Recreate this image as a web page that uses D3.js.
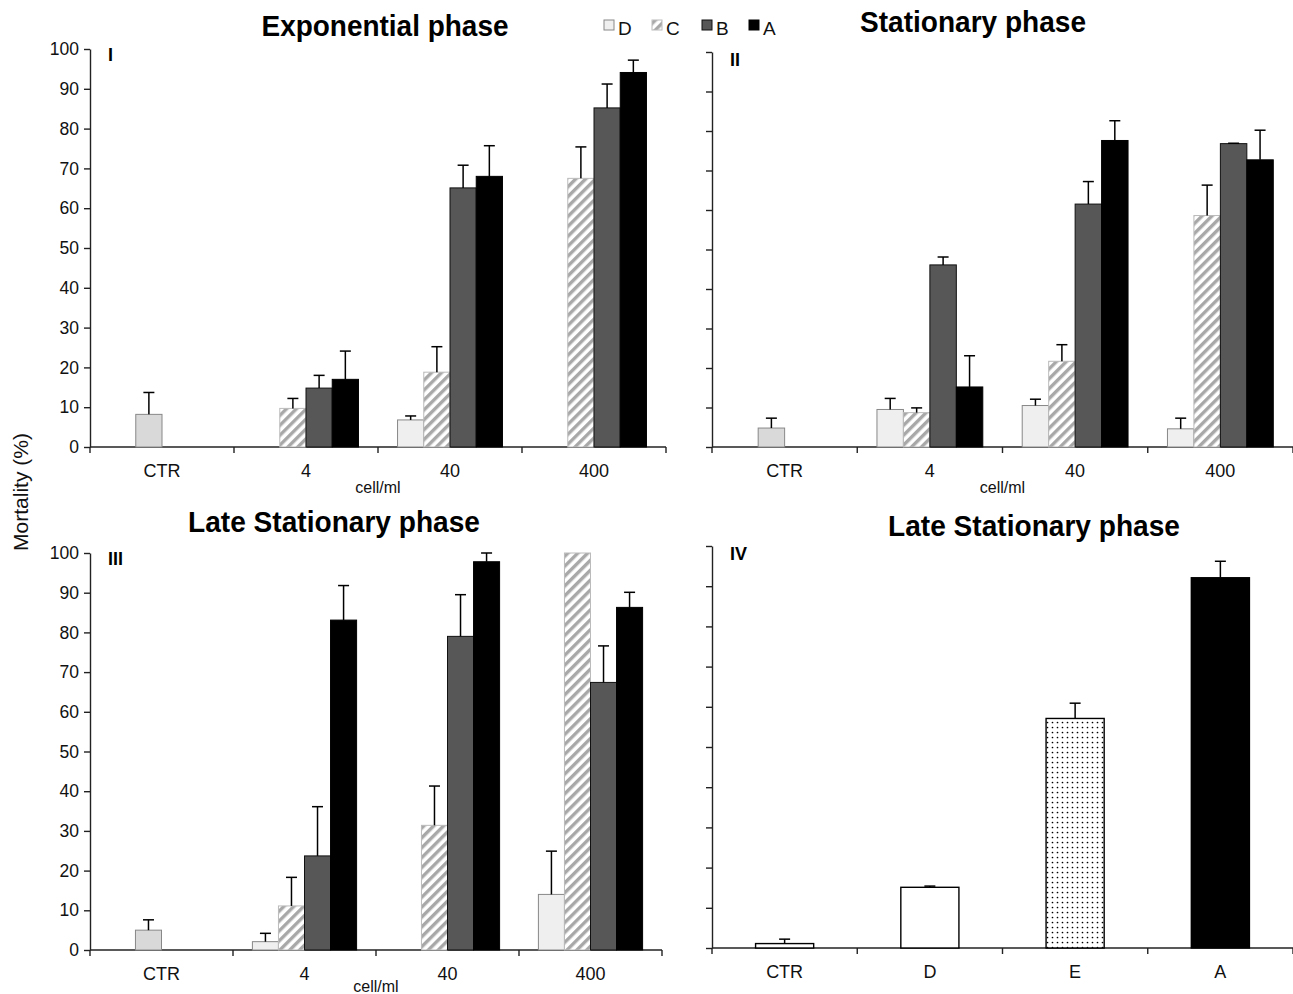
<!DOCTYPE html>
<html>
<head>
<meta charset="utf-8">
<script src="https://cdn.jsdelivr.net/npm/d3@7"></script>
<style>
  body { margin: 0; background: #fff; }
  text { font-family: "Liberation Sans", Arial, sans-serif; }
</style>
</head>
<body>
<script>
// mortality data (null = no bar, 0 = flat bar)
let groups = ["CTR", "4", "40", "400"];
let series = ["D", "C", "B", "A"];

// panel I - exponential phase, rows = groups, cols = D C B A
let expMean = [
    [null, 8.2, null, null],
    [null, 9.7, 14.8, 17.0],
    [6.8, 18.8, 65.1, 68.0],
    [null, 67.5, 85.2, 94.1]
];
let expErr = [
    [null, 5.5, null, null],
    [null, 2.5, 3.2, 7.1],
    [1.0, 6.4, 5.7, 7.7],
    [null, 7.9, 6.0, 3.1]
];

// panel II - stationary phase
let statMean = [
    [null, 4.8, null, null],
    [9.5, 8.7, 46.1, 15.2],
    [10.5, 21.7, 61.5, 77.6],
    [4.6, 58.6, 76.8, 72.7]
];
let statErr = [
    [null, 2.5, null, null],
    [2.8, 1.2, 2.0, 7.9],
    [1.6, 4.2, 5.7, 5.0],
    [2.7, 7.7, 0.1, 7.5]
];

// panel III - late stationary phase
let lateMean = [
    [0, 5.0, 0, 0],
    [2.1, 11.1, 23.7, 83.1],
    [0, 31.4, 79.0, 97.8],
    [14.0, 100, 67.4, 86.3]
];
let lateErr = [
    [0, 2.6, 0, 0],
    [2.1, 7.2, 12.4, 8.7],
    [0, 9.9, 10.5, 2.2],
    [10.9, 0, 9.2, 3.8]
];

// panel IV - late stationary phase, single bars
let p4Cats = ["CTR", "D", "E", "A"];
let p4Mean = [1.1, 15.1, 57.1, 92.1];
let p4Err = [1.1, 0.3, 3.8, 4.1];

let yTicks = [0, 10, 20, 30, 40, 50, 60, 70, 80, 90, 100];

let svg = d3.select('body').append('svg')
    .attr('width', 1293)
    .attr('height', 994);

let defs = svg.append('defs');
let hatch = defs.append('pattern')
    .attr('id', 'hatch')
    .attr('patternUnits', 'userSpaceOnUse')
    .attr('width', 7).attr('height', 7)
    .attr('patternTransform', 'rotate(45)');
hatch.append('rect').attr('width', 7).attr('height', 7).attr('fill', '#fff');
hatch.append('rect').attr('width', 3.4).attr('height', 7).attr('fill', '#a8a8a8');

let dots = defs.append('pattern')
    .attr('id', 'dots')
    .attr('patternUnits', 'userSpaceOnUse')
    .attr('width', 5).attr('height', 5);
dots.append('rect').attr('width', 5).attr('height', 5).attr('fill', '#fff');
dots.append('circle').attr('cx', 2.5).attr('cy', 2.5).attr('r', 0.85).attr('fill', '#000');

let fills = { D: '#efefef', C: 'url(#hatch)', B: '#575757', A: '#000', CTR: '#d9d9d9' };
let strokes = { D: '#888', C: '#bbb', B: '#111', A: '#000', CTR: '#888' };

function frame(p) {
    let g = svg.append('g');
    let x = d3.scaleBand().domain(p.cats).range([p.x0, p.x1]);
    let y = d3.scaleLinear().domain([0, 100]).range([p.y0, p.yTop]);

    // y axis
    let yAxis = d3.axisLeft(y).tickValues(yTicks).tickSize(6).tickPadding(5).tickSizeOuter(0);
    if (!p.labels) yAxis.tickFormat('');
    let ya = g.append('g').attr('transform', `translate(${p.x0},0)`).call(yAxis);
    ya.select('.domain').attr('stroke', '#222').attr('stroke-width', 1.4);
    ya.selectAll('.tick line').attr('stroke', '#222').attr('stroke-width', 1.4);
    ya.selectAll('.tick text').attr('font-size', 17.5).attr('fill', '#111')
        .attr('font-family', '"Liberation Sans", Arial, sans-serif');

    // x axis with boundary ticks and centred labels
    g.append('line')
        .attr('x1', p.x0).attr('x2', p.x1)
        .attr('y1', p.y0).attr('y2', p.y0)
        .attr('stroke', '#222').attr('stroke-width', 1.4);
    g.selectAll('.bnd').data(d3.range(p.cats.length + 1)).enter().append('line')
        .attr('x1', i => p.x0 + i * x.bandwidth())
        .attr('x2', i => p.x0 + i * x.bandwidth())
        .attr('y1', p.y0).attr('y2', p.y0 + 6)
        .attr('stroke', '#222').attr('stroke-width', 1.4);
    g.selectAll('.xl').data(p.cats).enter().append('text')
        .text(d => d)
        .attr('x', d => x(d) + x.bandwidth() / 2)
        .attr('y', p.y0 + 30)
        .attr('text-anchor', 'middle')
        .attr('font-size', 18).attr('fill', '#111');
    if (p.xTitle) {
        g.append('text').text('cell/ml')
            .attr('x', (p.x0 + p.x1) / 2).attr('y', p.xTitleY)
            .attr('text-anchor', 'middle')
            .attr('font-size', 16).attr('fill', '#111');
    }

    g.append('text').text(p.title)
        .attr('x', p.titleX).attr('y', p.titleY)
        .attr('text-anchor', 'middle')
        .attr('font-size', 29).attr('font-weight', 'bold')
        .attr('textLength', p.titleW).attr('lengthAdjust', 'spacingAndGlyphs');
    g.append('text').text(p.roman)
        .attr('x', p.x0 + 18).attr('y', p.romanY)
        .attr('font-size', 18).attr('font-weight', 'bold');
    return { g: g, x: x, y: y };
}

function errBar(g, cx, yTop, yBase) {
    g.append('line').attr('x1', cx).attr('x2', cx).attr('y1', yBase).attr('y2', yTop)
        .attr('stroke', '#000').attr('stroke-width', 1.5);
    g.append('line').attr('x1', cx - 5.5).attr('x2', cx + 5.5).attr('y1', yTop).attr('y2', yTop)
        .attr('stroke', '#000').attr('stroke-width', 1.5);
}

function groupedPanel(p, mean, err) {
    let f = frame(p);
    let inner = d3.scaleBand().domain(series).range([0, f.x.bandwidth()]).paddingOuter(0.745);
    let bars = [];
    mean.forEach((row, gi) => {
        row.forEach((v, si) => {
            if (v === null) return;
            bars.push({ grp: groups[gi], s: series[si], v: v, e: err[gi][si], ctr: gi === 0 && v > 0 });
        });
    });
    f.g.selectAll('.bar').data(bars).enter().append('rect')
        .attr('x', d => f.x(d.grp) + inner(d.s))
        .attr('width', inner.bandwidth())
        .attr('y', d => f.y(d.v))
        .attr('height', d => f.y(0) - f.y(d.v))
        .attr('fill', d => d.ctr ? fills.CTR : fills[d.s])
        .attr('stroke', d => d.v === 0 ? '#777' : (d.ctr ? strokes.CTR : strokes[d.s]))
        .attr('stroke-width', 1);
    bars.forEach(d => {
        if (d.e > 0) {
            let cx = f.x(d.grp) + inner(d.s) + inner.bandwidth() / 2;
            errBar(f.g, cx, f.y(d.v + d.e), f.y(d.v));
        }
    });
}

groupedPanel({
    cats: groups, x0: 90, x1: 666, y0: 447, yTop: 49, labels: true,
    xTitle: true, xTitleY: 493, title: 'Exponential phase', titleX: 385, titleY: 36, titleW: 247,
    roman: 'I', romanY: 61
}, expMean, expErr);

groupedPanel({
    cats: groups, x0: 712, x1: 1293, y0: 447, yTop: 52, labels: false,
    xTitle: true, xTitleY: 493, title: 'Stationary phase', titleX: 973, titleY: 32, titleW: 226,
    roman: 'II', romanY: 66
}, statMean, statErr);

groupedPanel({
    cats: groups, x0: 90, x1: 662, y0: 950, yTop: 553, labels: true,
    xTitle: true, xTitleY: 992, title: 'Late Stationary phase', titleX: 334, titleY: 532, titleW: 292,
    roman: 'III', romanY: 565
}, lateMean, lateErr);

// panel IV
let f4 = frame({
    cats: p4Cats, x0: 712, x1: 1293, y0: 948, yTop: 546, labels: false,
    xTitle: false, title: 'Late Stationary phase', titleX: 1034, titleY: 536, titleW: 292,
    roman: 'IV', romanY: 560
});
let x4 = d3.scaleBand().domain(p4Cats).range([712, 1293]).paddingInner(0.6).paddingOuter(0.3);
let p4Fill = ['#fff', '#fff', 'url(#dots)', '#000'];
f4.g.selectAll('.bar4').data(p4Mean).enter().append('rect')
    .attr('x', (d, i) => x4(p4Cats[i]))
    .attr('width', x4.bandwidth())
    .attr('y', d => f4.y(d))
    .attr('height', d => f4.y(0) - f4.y(d))
    .attr('fill', (d, i) => p4Fill[i])
    .attr('stroke', '#000').attr('stroke-width', 1.4);
p4Mean.forEach((v, i) => {
    errBar(f4.g, x4(p4Cats[i]) + x4.bandwidth() / 2, f4.y(v + p4Err[i]), f4.y(v));
});

// shared y label
svg.append('text').text('Mortality (%)')
    .attr('transform', 'translate(28,492) rotate(-90)')
    .attr('text-anchor', 'middle')
    .attr('font-size', 21).attr('fill', '#111');

// legend
let legX = [604, 652, 702, 749];
let leg = svg.append('g');
series.forEach((s, i) => {
    leg.append('rect')
        .attr('x', legX[i]).attr('y', 20).attr('width', 10).attr('height', 10)
        .attr('fill', fills[s]).attr('stroke', strokes[s]).attr('stroke-width', 1);
    leg.append('text').text(s)
        .attr('x', legX[i] + 14).attr('y', 35)
        .attr('font-size', 19).attr('fill', '#111');
});
</script>
</body>
</html>
